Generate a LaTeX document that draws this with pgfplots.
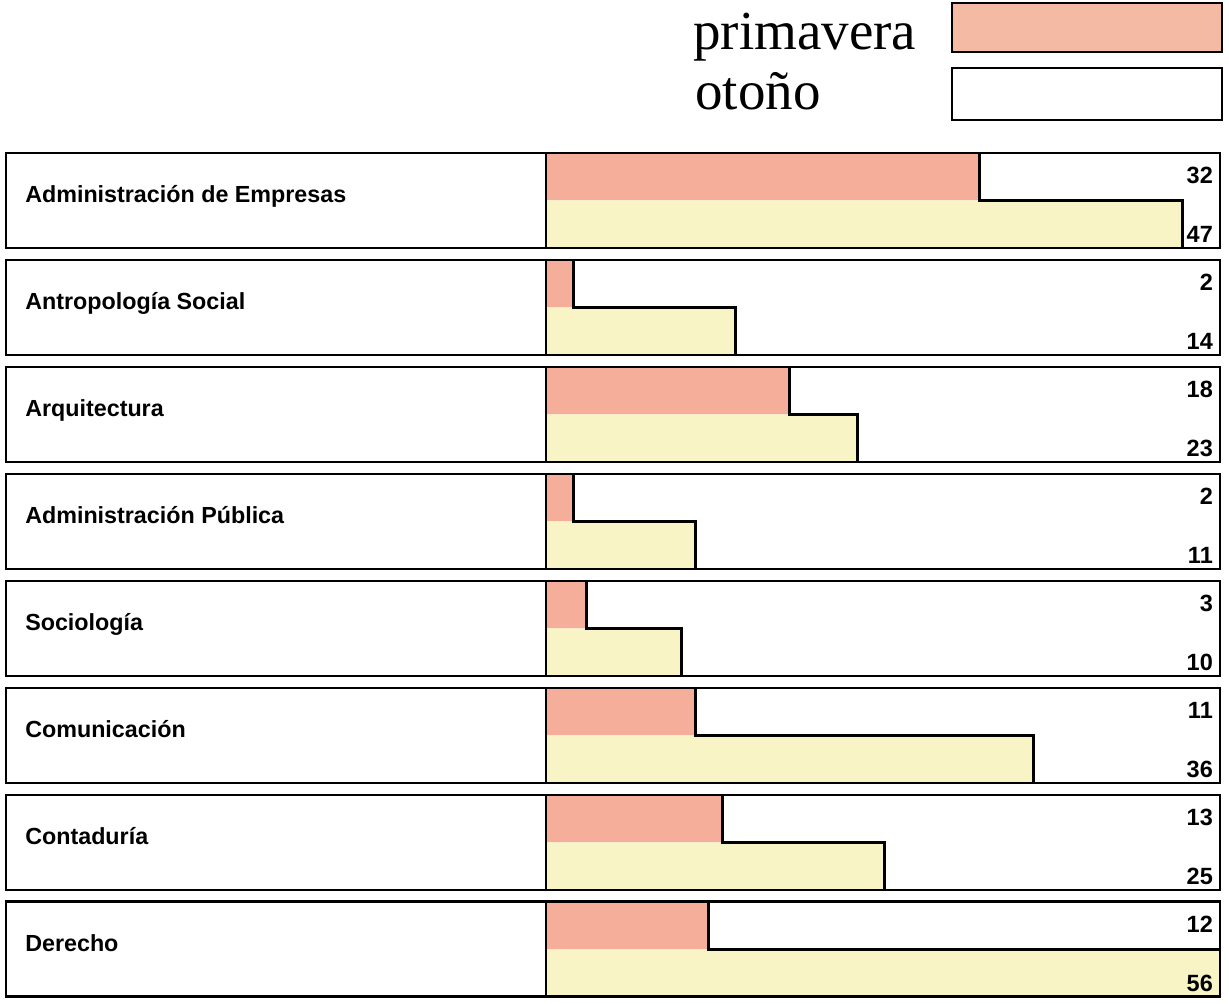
\documentclass[border=0pt]{standalone}
\usepackage{fontspec}
\setmainfont{Liberation Serif}
\newfontfamily\lsans{Liberation Sans}
\usepackage{pgfplots}
\usepackage{pgfplotstable}
\pgfplotsset{compat=1.18}
\definecolor{prim}{HTML}{F4AE9A}
\definecolor{oto}{HTML}{F8F4C6}
\definecolor{legprim}{HTML}{F5BAA4}
\pgfplotstableread{
row prim oto
0 32 47
1 2 14
2 18 23
3 2 11
4 3 10
5 11 36
6 13 25
7 12 56
}\data
\begin{document}
\begin{tikzpicture}
\begin{axis}[
  scale only axis,
  width=1214pt, height=844pt,
  xmin=-39.85, xmax=49.74,
  ymin=-0.444, ymax=7.444,
  y dir=reverse,
  hide axis,
  after end axis/.code={
    \path (axis cs:-40.30,-1.874) rectangle (axis cs:50.41,7.509);
    \draw[line width=2.8pt, fill=legprim] (axis cs:29.96,-1.846) rectangle (axis cs:49.89,-1.388);
    \draw[line width=2.8pt, fill=white] (axis cs:29.96,-1.238) rectangle (axis cs:49.89,-0.752);
    \node[anchor=base west, inner sep=0pt, font=\fontsize{55}{60}\selectfont] at (axis cs:10.85,-1.407) {primavera};
    \node[anchor=base west, inner sep=0pt, font=\fontsize{55}{60}\selectfont] at (axis cs:11.0,-0.846) {otoño};
    \foreach \i in {0,...,7} {
      \draw[line width=2.7pt] (axis cs:-39.85,\i-0.444) rectangle (axis cs:49.74,\i+0.444);
      \draw[line width=2.7pt] (axis cs:0,\i-0.444) -- (axis cs:0,\i+0.444);
    }
    \foreach \lab [count=\j from 0] in {Administración de Empresas, Antropología Social, Arquitectura, Administración Pública, Sociología, Comunicación, Contaduría, Derecho} {
      \node[anchor=base west, inner sep=0pt, font=\lsans\bfseries\fontsize{23.3}{26}\selectfont] at (axis cs:-38.45,\j+0.023) {\lab};
    }
    \foreach \p/\o [count=\j from 0] in {32/47, 2/14, 18/23, 2/11, 3/10, 11/36, 13/25, 12/56} {
      \node[anchor=base east, inner sep=0pt, font=\lsans\bfseries\fontsize{23.5}{26}\selectfont] at (axis cs:49.23,\j-0.155) {\p};
      \node[anchor=base east, inner sep=0pt, font=\lsans\bfseries\fontsize{23.5}{26}\selectfont] at (axis cs:49.23,\j+0.390) {\o};
    }
  }
]
\addplot[xbar, bar shift=0pt, bar width=0.444, fill=prim, draw=none]
  table[x=prim, y expr=\thisrow{row}-0.222]{\data};
\addplot[xbar, bar shift=0pt, bar width=0.444, fill=oto, draw=none]
  table[x=oto, y expr=\thisrow{row}+0.222]{\data};
\addplot[black, line width=3pt, line join=miter] coordinates {(32,-0.444) (32,0) (47,0) (47,0.444)};
\addplot[black, line width=3pt, line join=miter] coordinates {(2,0.556) (2,1) (14,1) (14,1.444)};
\addplot[black, line width=3pt, line join=miter] coordinates {(18,1.556) (18,2) (23,2) (23,2.444)};
\addplot[black, line width=3pt, line join=miter] coordinates {(2,2.556) (2,3) (11,3) (11,3.444)};
\addplot[black, line width=3pt, line join=miter] coordinates {(3,3.556) (3,4) (10,4) (10,4.444)};
\addplot[black, line width=3pt, line join=miter] coordinates {(11,4.556) (11,5) (36,5) (36,5.444)};
\addplot[black, line width=3pt, line join=miter] coordinates {(13,5.556) (13,6) (25,6) (25,6.444)};
\addplot[black, line width=3pt, line join=miter] coordinates {(12,6.556) (12,7) (56,7) (56,7.444)};
\end{axis}
\end{tikzpicture}
\end{document}
